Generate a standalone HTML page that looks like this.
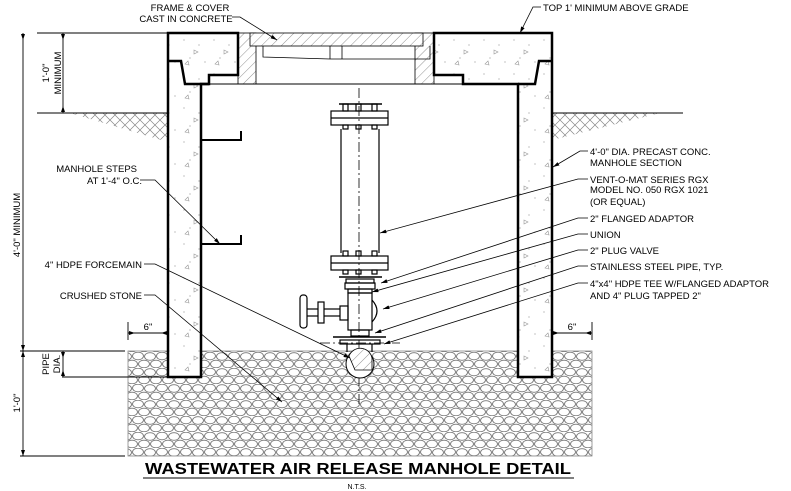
<!DOCTYPE html>
<html><head><meta charset="utf-8"><style>
html,body{margin:0;padding:0;background:#fff;}
svg{display:block;}
text{font-family:"Liberation Sans",sans-serif;font-size:9.5px;fill:#000;}
</style></head><body>
<svg width="791" height="491" viewBox="0 0 791 491" xmlns="http://www.w3.org/2000/svg">
<defs>
<pattern id="grav" width="24" height="16" patternUnits="userSpaceOnUse">
<rect width="24" height="16" fill="#fff"/>
<g fill="none" stroke="#777" stroke-width="0.9">
<ellipse cx="6" cy="4.5" rx="5.5" ry="3.8"/><ellipse cx="18" cy="4" rx="5.5" ry="3.8"/>
<ellipse cx="12" cy="12" rx="5.5" ry="3.8"/><ellipse cx="0" cy="12" rx="5.5" ry="3.8"/><ellipse cx="24" cy="12" rx="5.5" ry="3.8"/>
</g></pattern>
<pattern id="hatch" width="7" height="7" patternUnits="userSpaceOnUse" patternTransform="rotate(45)">
<rect width="7" height="7" fill="#fff"/><line x1="0" y1="0" x2="0" y2="7" stroke="#777" stroke-width="0.8"/></pattern>
<pattern id="earth" width="10" height="10" patternUnits="userSpaceOnUse">
<path d="M0 10 L10 0 M0 0 L10 10" stroke="#888" stroke-width="0.7" fill="none"/></pattern>
<marker id="ar" viewBox="0 0 10 6" refX="10" refY="3" markerWidth="8" markerHeight="5" orient="auto"><path d="M0 0 L10 3 L0 6 z" fill="#000"/></marker>
<pattern id="conc" width="30" height="34" patternUnits="userSpaceOnUse">
<rect width="30" height="34" fill="#fff"/>
<g fill="#999"><circle cx="4" cy="6" r="0.6"/><circle cx="19" cy="11" r="0.6"/><circle cx="10" cy="24" r="0.6"/><circle cx="25" cy="28" r="0.6"/></g>
<path d="M14 16 l4 2 l-4 2 z M5 30 l3 -3 l1 4 z" fill="none" stroke="#999" stroke-width="0.6"/></pattern>
</defs>

<!-- gravel -->
<rect x="128" y="351" width="464" height="105" fill="url(#grav)" stroke="#888" stroke-width="0.8"/>
<!-- earth hatch -->
<path d="M70 113 L168 113 L168 142 Z" fill="url(#earth)"/>
<path d="M552 113 L660 113 L552 140 Z" fill="url(#earth)"/>
<line x1="37" y1="113" x2="168" y2="113" stroke="#000" stroke-width="1"/>
<line x1="552" y1="113" x2="683" y2="113" stroke="#000" stroke-width="1"/>

<!-- frame & cover -->
<rect x="238" y="33" width="18" height="51" fill="url(#hatch)" stroke="#000" stroke-width="0.8"/>
<rect x="415" y="33" width="19" height="51" fill="url(#hatch)" stroke="#000" stroke-width="0.8"/>
<rect x="250" y="33" width="173" height="13" fill="url(#hatch)" stroke="#000" stroke-width="0.8"/>
<path d="M263 46 L263 57 L330 59 L430 59 L430 46" fill="none" stroke="#000" stroke-width="0.8"/>
<line x1="330" y1="46" x2="330" y2="59" stroke="#000" stroke-width="0.8"/><line x1="342" y1="46" x2="342" y2="59" stroke="#000" stroke-width="0.8"/>
<line x1="201" y1="84" x2="518" y2="84" stroke="#000" stroke-width="1"/>

<!-- concrete walls -->
<path d="M168 33 L238 33 L238 75 L209 75 L209 84 L201 84 L201 377 L168 377 Z" fill="url(#conc)" stroke="#000" stroke-width="2.5"/>
<path d="M209 84 L185 84 L181 61 L168 61" fill="none" stroke="#000" stroke-width="2.5"/>
<path d="M434 33 L552 33 L552 377 L518 377 L518 84 L463 84 L463 75 L434 75 Z" fill="url(#conc)" stroke="#000" stroke-width="2.5"/>
<path d="M518 84 L535 84 L539 61 L552 61" fill="none" stroke="#000" stroke-width="2.5"/>
<line x1="37" y1="33" x2="168" y2="33" stroke="#000"/>

<!-- steps -->
<path d="M201 140 L241 140 L241 131" fill="none" stroke="#000" stroke-width="2"/>
<path d="M201 244 L241 244 L241 235" fill="none" stroke="#000" stroke-width="2"/>

<!-- valve assembly -->
<g stroke="#000" fill="none" stroke-width="1.2">
<line x1="359" y1="88" x2="359" y2="405" stroke-dasharray="10,3,2,3" stroke-width="0.8"/>
<line x1="320" y1="343" x2="400" y2="343" stroke-dasharray="10,3,2,3" stroke-width="0.8"/>
<rect x="331" y="111" width="57" height="14"/><line x1="331" y1="118" x2="388" y2="118"/>
<line x1="339" y1="104" x2="382" y2="104" stroke-width="1.5"/>
<rect x="343" y="104" width="5" height="7"/><rect x="356" y="104" width="5" height="7"/><rect x="372" y="104" width="5" height="7"/>
<rect x="343" y="125" width="5" height="4"/><rect x="356" y="125" width="5" height="4"/><rect x="372" y="125" width="5" height="4"/>
<line x1="341" y1="129" x2="341" y2="253"/><line x1="379" y1="129" x2="379" y2="253"/>
<rect x="331" y="256" width="57" height="14"/><line x1="331" y1="263" x2="388" y2="263"/>
<rect x="343" y="251" width="5" height="5"/><rect x="356" y="251" width="5" height="5"/><rect x="372" y="251" width="5" height="5"/>
<rect x="343" y="270" width="5" height="4"/><rect x="356" y="270" width="5" height="4"/><rect x="372" y="270" width="5" height="4"/>
<line x1="339" y1="277" x2="382" y2="277" stroke-width="1.5"/>
<rect x="346" y="279" width="28" height="4"/><rect x="345" y="283" width="30" height="6"/><rect x="348" y="289" width="24" height="4"/>
<rect x="348" y="293" width="24" height="37"/><path d="M372 300 Q382 311 372 322"/>
<rect x="340" y="306" width="8" height="14"/><rect x="318" y="302" width="6" height="21"/>
<line x1="324" y1="309" x2="340" y2="309"/><line x1="324" y1="316" x2="340" y2="316"/>
<rect x="300" y="295" width="7" height="33" rx="3"/><line x1="307" y1="309" x2="318" y2="309"/><line x1="307" y1="316" x2="318" y2="316"/>
<rect x="351" y="330" width="18" height="6"/>
<line x1="333" y1="337" x2="386" y2="337" stroke-width="1.5"/>
<rect x="340" y="340" width="40" height="4"/>
<line x1="347" y1="344" x2="347" y2="352"/><line x1="372" y1="344" x2="372" y2="352"/>
</g>
<circle cx="360" cy="364" r="14" fill="#fff" stroke="#000" stroke-width="1"/>
<path d="M349 356 A12 12 0 0 1 372 358 L372 370 L355 370 Z" fill="url(#hatch)" stroke="#000" stroke-width="0.8"/>

<!-- dimensions -->
<g stroke="#000" stroke-width="0.9" fill="none">
<line x1="23" y1="33" x2="23" y2="456"/>
<line x1="63" y1="33" x2="63" y2="113"/>
<line x1="20" y1="351" x2="125" y2="351"/><line x1="20" y1="456" x2="125" y2="456"/>
<line x1="62" y1="377" x2="168" y2="377"/>
<line x1="63" y1="351" x2="63" y2="377"/>
<line x1="128" y1="322" x2="128" y2="340"/><line x1="128" y1="333" x2="168" y2="333"/>
<line x1="592" y1="322" x2="592" y2="340"/><line x1="552" y1="333" x2="592" y2="333"/>
</g>
<g fill="#000">
<path d="M21 34 l2 6 l2 -6z M21 345 l2 6 l2 -6z M21 357 l2 -6 l2 6z M21 450 l2 6 l2 -6z"/>
<path d="M61 34 l2 6 l2 -6z M61 112 l2 -6 l2 6z M61 352 l2 6 l2 -6z M61 376 l2 -6 l2 6z"/>
<path d="M129 331 l6 2 l-6 2z M167 331 l-6 2 l6 2z M553 331 l6 2 l-6 2z M591 331 l-6 2 l6 2z"/>
</g>
<text transform="translate(20,225) rotate(-90)" text-anchor="middle">4'-0" MINIMUM</text>
<text transform="translate(49,73) rotate(-90)" text-anchor="middle">1'-0"</text>
<text transform="translate(61,73) rotate(-90)" text-anchor="middle" font-size="8.5">MINIMUM</text>
<text transform="translate(20,403) rotate(-90)" text-anchor="middle">1'-0"</text>
<text transform="translate(49,364) rotate(-90)" text-anchor="middle">PIPE</text>
<text transform="translate(60,364) rotate(-90)" text-anchor="middle">DIA.</text>
<text x="148" y="330" text-anchor="middle">6"</text>
<text x="572" y="330" text-anchor="middle">6"</text>

<!-- leaders -->
<g stroke="#000" stroke-width="0.8" fill="none" marker-end="url(#ar)">
<path d="M232 17 L240 17 L277 40"/>
<path d="M541 7 L533 7 L520 33"/>
<path d="M140 180 L155 180 L220 244"/>
<path d="M144 264 L155 264 L350 358"/>
<path d="M144 295 L155 295 L282 402"/>
<path d="M588 151 L580 151 L553 167"/>
<path d="M588 179 L578 179 L380 233"/>
<path d="M588 218 L578 218 L381 283"/>
<path d="M588 234 L578 234 L372 292"/>
<path d="M588 250 L578 250 L383 309"/>
<path d="M588 266 L578 266 L375 333"/>
<path d="M588 283 L578 283 L384 344"/>
</g>

<!-- labels -->
<text x="190" y="11" text-anchor="middle">FRAME &amp; COVER</text>
<text x="186" y="22" text-anchor="middle">CAST IN CONCRETE</text>
<text x="543" y="11">TOP 1' MINIMUM ABOVE GRADE</text>
<text x="137" y="172" text-anchor="end">MANHOLE STEPS</text>
<text x="142" y="184" text-anchor="end">AT 1'-4" O.C.</text>
<text x="142" y="268" text-anchor="end">4" HDPE FORCEMAIN</text>
<text x="142" y="299" text-anchor="end">CRUSHED STONE</text>
<text x="590" y="155">4'-0" DIA. PRECAST CONC.</text>
<text x="590" y="166">MANHOLE SECTION</text>
<text x="590" y="183">VENT-O-MAT SERIES RGX</text>
<text x="590" y="193">MODEL NO. 050 RGX 1021</text>
<text x="590" y="205">(OR EQUAL)</text>
<text x="590" y="222">2" FLANGED ADAPTOR</text>
<text x="590" y="238">UNION</text>
<text x="590" y="254">2" PLUG VALVE</text>
<text x="590" y="270">STAINLESS STEEL PIPE, TYP.</text>
<text x="590" y="287">4"x4" HDPE TEE W/FLANGED ADAPTOR</text>
<text x="590" y="299">AND 4" PLUG TAPPED 2"</text>

<text x="358" y="474" text-anchor="middle" style="font-size:16px;font-weight:bold;" textLength="426" lengthAdjust="spacingAndGlyphs">WASTEWATER AIR RELEASE MANHOLE DETAIL</text>
<line x1="143" y1="478" x2="574" y2="478" stroke="#000" stroke-width="1"/>
<text x="357" y="489" text-anchor="middle" style="font-size:7px">N.T.S.</text>
</svg>
</body></html>
